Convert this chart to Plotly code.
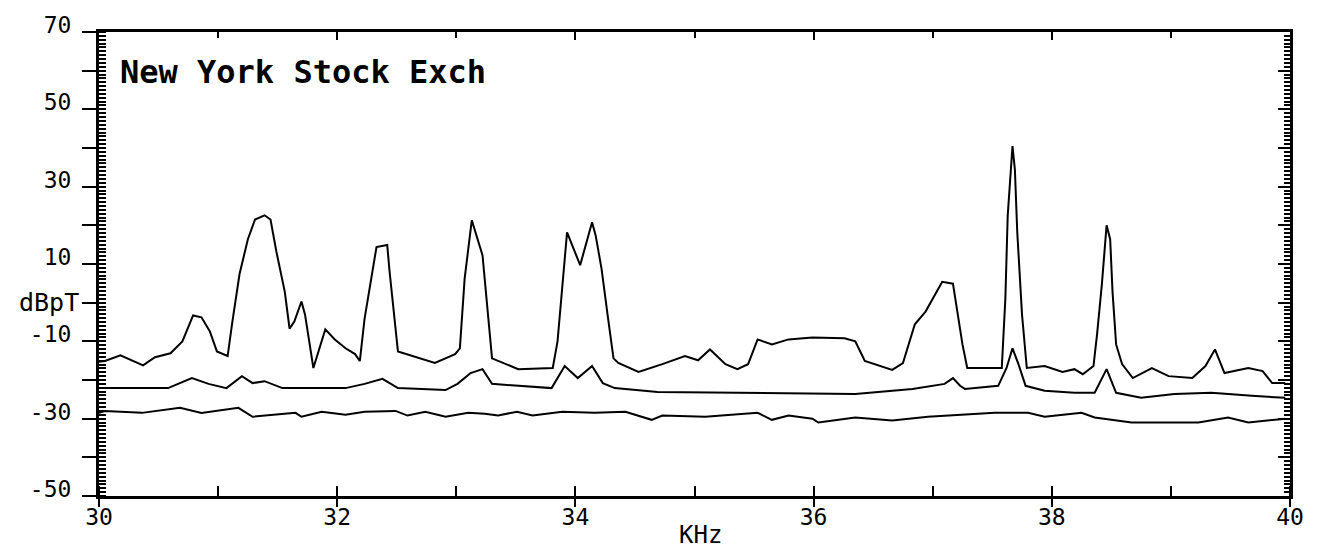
import plotly.graph_objects as go

# Magnetic field spectrum, 30-40 kHz, three measurement traces (dBpT)
freq_top = [30.00, 30.05, 30.18, 30.37, 30.47, 30.60, 30.70, 30.79, 30.86, 30.93, 30.99,
            31.08, 31.12, 31.18, 31.25, 31.31, 31.39, 31.44, 31.49, 31.56, 31.60, 31.64,
            31.70, 31.73, 31.80, 31.90, 31.98, 32.07, 32.15, 32.19, 32.23, 32.28, 32.33,
            32.42, 32.44, 32.51, 32.82, 32.99, 33.03, 33.07, 33.13, 33.22, 33.30, 33.52,
            33.81, 33.85, 33.93, 34.04, 34.14, 34.17, 34.22, 34.27, 34.32, 34.36, 34.53,
            34.73, 34.92, 35.03, 35.13, 35.26, 35.36, 35.45, 35.53, 35.65, 35.79, 35.99,
            36.26, 36.35, 36.43, 36.66, 36.75, 36.85, 36.94, 37.08, 37.17, 37.25, 37.29,
            37.58, 37.61, 37.63, 37.67, 37.69, 37.71, 37.75, 37.79, 37.94, 38.09, 38.19,
            38.26, 38.35, 38.38, 38.42, 38.46, 38.49, 38.51, 38.54, 38.59, 38.68, 38.84,
            38.98, 39.18, 39.29, 39.37, 39.45, 39.65, 39.77, 39.85, 39.96]
level_top = [-15.3, -15.1, -13.6, -16.2, -14.1, -13.1, -10.0, -3.3, -3.8, -7.4, -12.6,
             -13.8, -4.9, 7.4, 16.4, 21.5, 22.6, 21.5, 13.1, 2.8, -6.7, -4.9,
             0.3, -3.1, -16.9, -6.9, -9.5, -11.8, -13.3, -15.1, -4.1, 5.4, 14.4,
             14.9, 8.0, -12.6, -15.6, -13.3, -11.8, 6.2, 21.3, 12.3, -14.4, -17.2,
             -16.9, -10.0, 18.2, 9.7, 20.8, 17.4, 8.7, -3.1, -14.4, -15.6, -17.9,
             -15.9, -13.8, -14.9, -12.1, -15.9, -17.2, -15.9, -9.5, -10.8, -9.5, -9.0,
             -9.2, -10.0, -15.1, -17.4, -15.6, -5.6, -2.3, 5.4, 4.9, -10.8, -16.9,
             -16.9, 1.0, 22.6, 40.5, 34.4, 18.2, -3.1, -16.9, -16.4, -17.9, -17.2,
             -18.5, -16.4, -8.2, 4.6, 20.0, 16.4, 2.8, -10.8, -15.9, -19.5, -16.9,
             -19.0, -19.5, -16.4, -12.1, -18.2, -16.9, -17.7, -20.8, -20.8]

freq_mid = [30.00, 30.58, 30.78, 30.92, 31.07, 31.20, 31.29, 31.39, 31.54, 32.07, 32.23,
            32.38, 32.51, 32.91, 33.01, 33.12, 33.22, 33.30, 33.80, 33.91, 34.02, 34.14,
            34.23, 34.33, 34.69, 35.50, 36.35, 36.83, 37.10, 37.17, 37.23, 37.27, 37.55,
            37.62, 37.67, 37.72, 37.78, 37.94, 38.19, 38.36, 38.46, 38.54, 38.75, 39.03,
            39.34, 39.68, 39.96]
level_mid = [-22.1, -22.1, -19.5, -21.0, -22.1, -19.0, -20.8, -20.3, -22.1, -22.1, -21.0,
             -19.7, -22.1, -22.6, -21.0, -18.2, -17.2, -21.0, -22.1, -16.4, -19.5, -16.4,
             -20.8, -22.1, -23.1, -23.3, -23.6, -22.3, -21.0, -19.5, -21.5, -22.3, -21.5,
             -16.9, -11.8, -15.9, -21.5, -22.8, -23.3, -23.3, -17.2, -23.3, -24.6, -23.6,
             -23.3, -24.1, -24.6]

freq_bot = [30.00, 30.05, 30.36, 30.68, 30.86, 31.17, 31.29, 31.65, 31.70, 31.87, 32.07,
            32.23, 32.49, 32.59, 32.74, 32.91, 33.10, 33.24, 33.35, 33.51, 33.64, 33.89,
            34.16, 34.42, 34.64, 34.73, 35.09, 35.53, 35.65, 35.79, 35.99, 36.04, 36.35,
            36.66, 36.96, 37.52, 37.80, 37.94, 38.25, 38.36, 38.67, 39.23, 39.48, 39.65,
            39.96]
level_bot = [-28.5, -28.0, -28.5, -27.2, -28.5, -27.2, -29.5, -28.5, -29.5, -28.2, -29.0,
             -28.2, -28.0, -29.2, -28.2, -29.5, -28.5, -28.7, -29.2, -28.2, -29.2, -28.2,
             -28.5, -28.2, -30.3, -29.2, -29.5, -28.5, -30.3, -29.2, -30.0, -31.0, -29.7,
             -30.5, -29.5, -28.5, -28.5, -29.5, -28.5, -29.7, -31.0, -31.0, -29.7, -31.0,
             -30.0]

x_range = [30, 40]
y_range = [-50, 70]
x_tickvals = [30, 32, 34, 36, 38, 40]
x_ticktext = ["30", "32", "34", "36", "38", "40"]
y_tickvals = [70, 60, 50, 40, 30, 20, 10, 0, -10, -20, -30, -40, -50]
y_ticktext = ["70", "", "50", "", "30", "", "10", "", "-10", "", "-30", "", "-50"]

site_name = "New York Stock Exch"
x_title = "KHz"
y_title = "dBpT"

mono = "DejaVu Sans Mono"

fig = go.Figure()
for fx, fy in [(freq_top, level_top), (freq_mid, level_mid), (freq_bot, level_bot)]:
    fig.add_trace(go.Scatter(x=fx, y=fy, mode="lines",
                             line=dict(color="black", width=2),
                             showlegend=False, hoverinfo="skip"))

# transparent copy bound to the top/right frame axes so they get drawn
fig.add_trace(go.Scatter(x=freq_bot, y=level_bot, mode="lines", opacity=0,
                         xaxis="x2", yaxis="y2", showlegend=False, hoverinfo="skip"))

fig.update_layout(
    width=1320, height=552,
    margin=dict(l=99, r=30, t=28, b=56),
    paper_bgcolor="white", plot_bgcolor="white",
    font=dict(family=mono, color="black", size=23),
)

fig.update_xaxes(
    range=x_range, tickvals=x_tickvals, ticktext=x_ticktext,
    ticks="outside", ticklen=8, tickwidth=2, tickcolor="black",
    minor=dict(dtick=1, tick0=30, ticks="inside", ticklen=10, tickwidth=2, tickcolor="black"),
    showline=True, linewidth=3, linecolor="black", mirror=True,
    showgrid=False, zeroline=False, ticklabelstandoff=-10,
    tickfont=dict(family=mono, size=23),
)

fig.update_yaxes(
    range=y_range, tickvals=y_tickvals, ticktext=y_ticktext,
    ticks="outside", ticklen=14, tickwidth=2, tickcolor="black",
    minor=dict(dtick=1, tick0=0, ticks="inside", ticklen=7, tickwidth=2, tickcolor="black"),
    showline=True, linewidth=3, linecolor="black", mirror=True,
    showgrid=False, zeroline=False,
    ticklabelstandoff=6, ticklabelshift=-7,
    tickfont=dict(family=mono, size=23),
)

# top and right frame: inward ticks only, no labels
fig.update_layout(
    xaxis2=dict(overlaying="x", side="top", range=x_range, showticklabels=False,
                tickvals=x_tickvals, ticks="inside", ticklen=8, tickwidth=2, tickcolor="black",
                minor=dict(dtick=1, tick0=30, ticks="inside", ticklen=6, tickwidth=2,
                           tickcolor="black"),
                showgrid=False, zeroline=False, showline=False),
    yaxis2=dict(overlaying="y", side="right", range=y_range, showticklabels=False,
                tickvals=y_tickvals, ticks="inside", ticklen=12, tickwidth=2, tickcolor="black",
                minor=dict(dtick=1, tick0=0, ticks="inside", ticklen=6, tickwidth=2,
                           tickcolor="black"),
                showgrid=False, zeroline=False, showline=False),
)

fig.add_annotation(text=site_name, xref="paper", yref="paper",
                   x=0.016, y=0.9145, xanchor="left", yanchor="middle",
                   showarrow=False,
                   font=dict(family=mono, size=32, weight="bold", color="black"))
fig.add_annotation(text=y_title, xref="paper", yref="y",
                   x=-0.042, y=0, xanchor="center", yanchor="middle",
                   showarrow=False, font=dict(family=mono, size=25, color="black"))
fig.add_annotation(text=x_title, xref="x", yref="paper",
                   x=35.05, y=-0.083, xanchor="center", yanchor="middle",
                   showarrow=False, font=dict(family=mono, size=24, color="black"))

fig.write_html("out.html")
